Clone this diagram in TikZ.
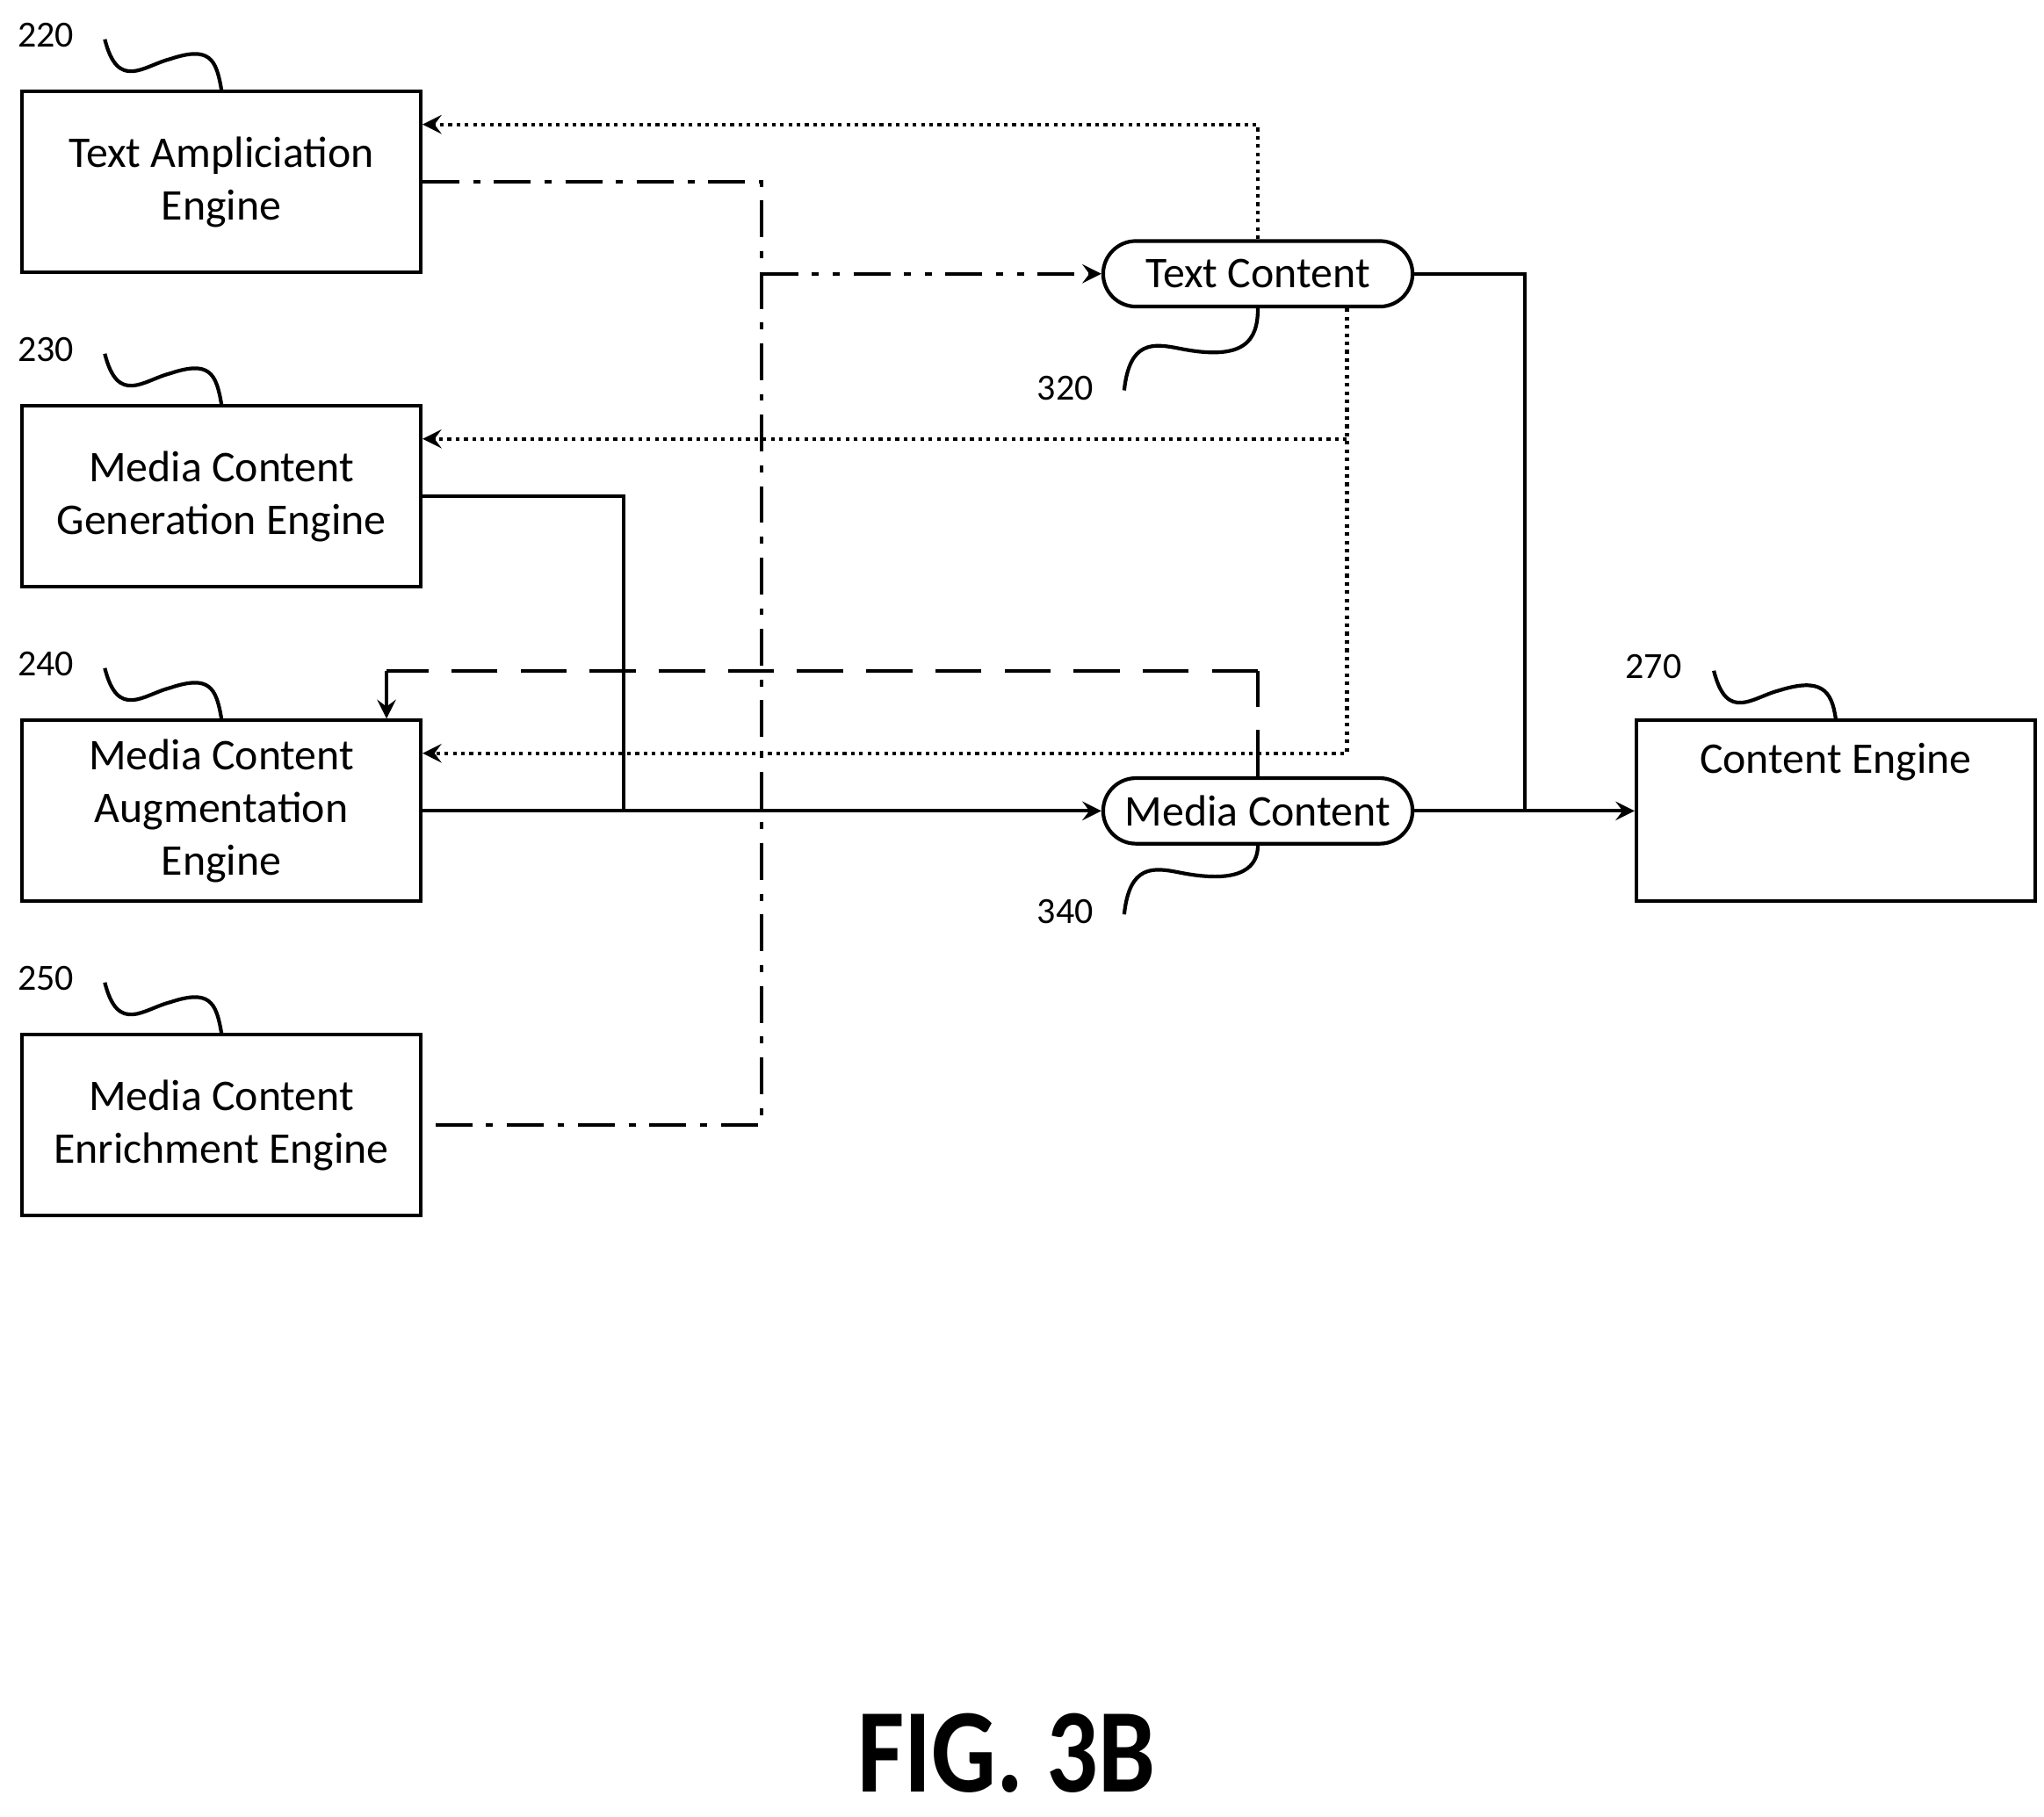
\documentclass[tikz,border=0pt]{standalone}
\usepackage{fontspec}
\setmainfont{Carlito}
\usetikzlibrary{positioning}
\usetikzlibrary{arrows}
\begin{document}
\begin{tikzpicture}[x=0.01cm,y=-0.01cm,
engine/.style={rectangle, draw, thick, minimum width=3.04cm, minimum height=1.38cm, align=center, font=\fontsize{9.5}{11.5}\selectfont},
pill/.style={rectangle, rounded corners=0.25cm, draw, thick, minimum width=2.36cm, minimum height=0.5cm, inner sep=0pt, font=\fontsize{9.5}{11.5}\selectfont},
refnum/.style={font=\fontsize{8}{9}\selectfont},
squig/.style={thick},
>=stealth,
]
\useasboundingbox (0,0) rectangle (1560,1387);
%Nodes
\node[engine]           (tae)      at (169,139)  {Text Ampliciation\\Engine};
\node[engine]           (mcg)      at (169,379)  {Media Content\\Generation Engine};
\node[engine]           (mca)      at (169,619)  {Media Content\\Augmentation\\Engine};
\node[engine]           (mce)      at (169,859)  {Media Content\\Enrichment Engine};
\node[engine, text depth=0.8cm] (ce) at (1401,619) {Content Engine};
\node[pill]             (tc)       at (960,209)  {Text Content};
\node[pill]             (mc)       at (960,619)  {Media Content};

%Reference numerals
\node[refnum] (n220) at (35,27)   {220};
\node[refnum] (n230) at (35,267)  {230};
\node[refnum] (n240) at (35,507)  {240};
\node[refnum] (n250) at (35,747)  {250};
\node[refnum] (n270) at (1262,509) {270};
\node[refnum] (n320) at (813,296) {320};
\node[refnum] (n340) at (813,696) {340};
\foreach \y/\b in {30/tae,270/mcg,510/mca,750/mce}
  \draw[squig] (80,\y) .. controls (90,\y+40) and (110,\y+20) .. (130,\y+15) .. controls (160,\y+5) and (165,\y+15) .. (\b.north);
\draw[squig] (1308,512) .. controls (1318,552) and (1338,532) .. (1358,527) .. controls (1390,517) and (1398,527) .. (ce.north);
\draw[squig] (858,298) .. controls (862,260) and (880,262) .. (900,266) .. controls (950,276) and (960,260) .. (tc.south);
\draw[squig] (858,698) .. controls (862,660) and (880,662) .. (900,666) .. controls (950,676) and (960,660) .. (mc.south);

%Lines
\coordinate (j1) at (581,209);
\coordinate (k1) at (960,512);
\coordinate (k2) at (295,512);
\draw[thick, dash pattern=on 8pt off 3pt on 1.5pt off 3pt] (tae.east |- 0,139) -| (581,859) -- (mce.east |- 0,859);
\draw[thick, ->, dash pattern=on 8pt off 3pt on 1.5pt off 3pt on 1.5pt off 3pt] (j1) -- (tc.west);
\draw[thick, ->, densely dotted] (tc.north) |- (tae.east |- 0,95);
\draw[thick, ->, densely dotted] (tc.south -| 1028,0) |- (mca.east |- 0,575);
\draw[thick, ->, densely dotted] (1028,335) -- (mcg.east |- 0,335);
\draw[thick, dash pattern=on 10pt off 5pt] (mc.north) -- (k1);
\draw[thick, dash pattern=on 10pt off 5pt] (k1) -- (k2);
\draw[thick, ->] (k2) -- (mca.north -| k2);
\draw[thick] (mcg.east |- 0,379) -| (476,619);
\draw[thick, ->] (mca.east) -- (mc.west);
\draw[thick] (tc.east) -| (1164,619);
\draw[thick, ->] (mc.east) -- (ce.west);

\node[font=\bfseries\fontsize{26}{28}\selectfont, xscale=0.85] (fig) at (768,1338) {FIG. 3B};
\end{tikzpicture}
\end{document}
